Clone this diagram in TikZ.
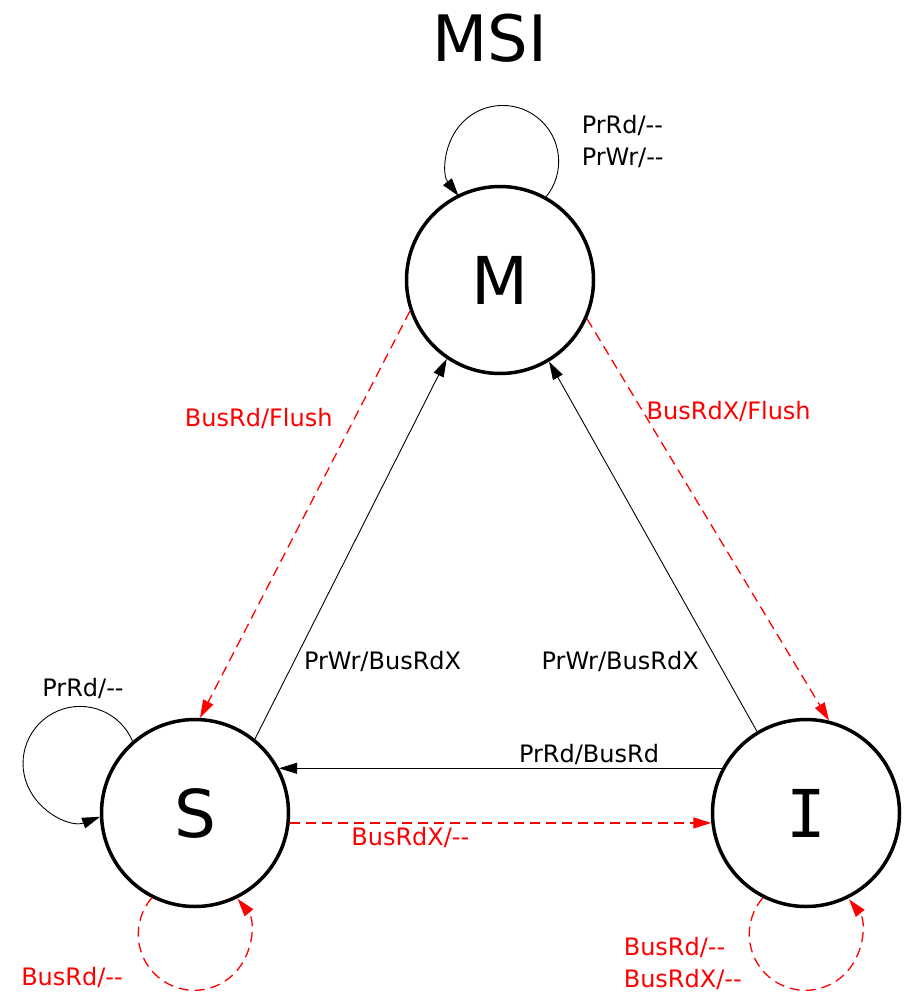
\documentclass[tikz,border=0pt]{standalone}
\usepackage{fontspec}
\setmainfont{DejaVu Sans}
\newfontfamily\slabfont{DejaVu Sans Mono}
\usetikzlibrary{arrows.meta}

\newcommand\noact{{-}{-}}

\tikzset{
  cachestate/.style={circle,draw,line width=3.5pt,minimum size=187pt,inner sep=0pt,
    font=\fontsize{66}{66}\selectfont},
  bus/.style={red,line width=1.3pt,dash pattern=on 10pt off 6pt},
  lbl/.style={font=\fontsize{24}{32}\selectfont},
}

\begin{document}
\begin{tikzpicture}[x=1pt,y=1pt,>={Triangle[length=18pt,width=11pt]},line width=0.9pt]
  \useasboundingbox (0,-993) rectangle (910,0);
  \node[font=\fontsize{64}{64}\selectfont] (title) at (490,-38) {MSI};

  \node[cachestate] (M) at (500,-280) {M};
  \node[cachestate] (S) at (195,-813) {S};
  \node[cachestate] (I) at (806,-813) {\slabfont I};

  % processor requests
  \path[->] (S.51)  edge node[lbl,pos=.205,anchor=west,xshift=6pt] (sm) {PrWr/BusRdX} (M.236)
            (I.121) edge node[lbl,pos=.19,anchor=east,xshift=-15pt] (im) {PrWr/BusRdX} (M.301)
            (I.152) edge node[lbl,pos=.3,above] (is) {PrRd/BusRd} (S.28);

  % snooped bus requests
  \path[->,bus] (M.199) edge node[lbl,pos=.264,anchor=east,xshift=-18pt] (ms) {BusRd/Flush} (S.87)
                (M.336) edge node[lbl,pos=.23,anchor=west] (mi) {BusRdX/Flush} (I.76)
                (S.-6)  edge node[lbl,pos=.286,below] (si) {BusRdX/\noact} (I.186);

  % self loops
  \draw[->] (M.61) arc[start angle=-39,end angle=218,radius=56pt];
  \draw[->] (S.131) arc[start angle=23,end angle=290.6,radius=57pt];
  \draw[->,bus] (S.243) arc[start angle=139.4,end angle=399.3,radius=56pt];
  \draw[->,bus] (I.243) arc[start angle=139.4,end angle=398.7,radius=56pt];

  \node[lbl,align=left,anchor=west] (mloop) at (578,-141) {PrRd/\noact\\PrWr/\noact};
  \node[lbl] (sloop) at (83,-688) {PrRd/\noact};
  \node[lbl,red] (sbus) at (72,-977) {BusRd/\noact};
  \node[lbl,red,align=left,anchor=west] (ibus) at (620,-963) {BusRd/\noact\\BusRdX/\noact};
\end{tikzpicture}
\end{document}
